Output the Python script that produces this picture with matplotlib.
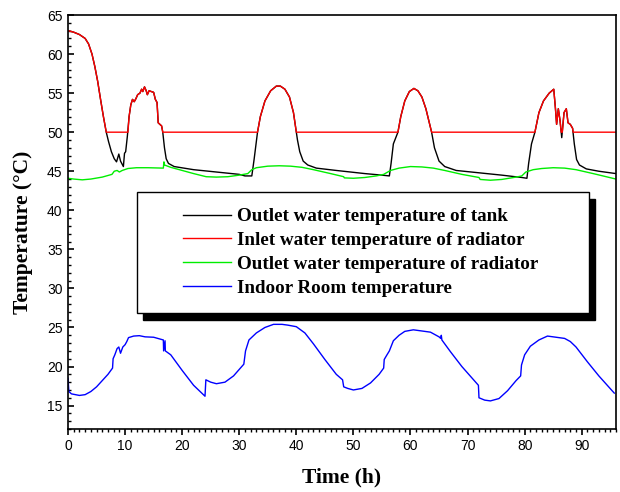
import numpy as np
import matplotlib
matplotlib.use('Agg')
import matplotlib.pyplot as plt
from matplotlib.patches import Rectangle
from matplotlib.ticker import MultipleLocator

# outlet water temperature of tank
tank_t = [0, 1, 2, 3, 3.6, 4.2, 4.7, 5.2, 5.7, 6.2, 6.7, 7.1, 7.6, 8.1, 8.5, 8.9, 9.2, 9.7, 9.9, 10.1,
          10.4, 10.7, 11.0, 11.3, 11.6, 11.9, 12.2, 12.6, 12.9, 13.1, 13.4, 13.7, 13.9, 14.2, 14.6, 15.0,
          15.3, 15.6, 15.8, 16.1, 16.4, 16.6, 16.9, 17.2, 17.6, 18.6, 22, 26, 30, 31.0, 32.2,
          32.6, 33.2, 33.7, 34.5, 35.5, 36.5, 37.2, 38.0, 38.8, 39.5, 39.9, 40.2, 40.6, 41.2, 42, 43.5,
          47, 52, 55, 56.3, 56.6, 57.0, 57.8, 58.3, 59.0, 59.8, 60.6, 61.3, 62.0, 62.7, 63.2, 63.7, 64.2,
          65.0, 66.0, 68.0, 72, 76, 79.5, 80.4, 80.7, 81.2, 81.8, 82.5, 83.3, 84.3, 85.1, 85.4, 85.6,
          85.9, 86.2, 86.5, 86.9, 87.3, 87.6, 88.0, 88.4, 88.7, 89.1, 89.6, 90.8, 93, 96]
tank_T = [63.0, 62.8, 62.5, 62.0, 61.3, 60.0, 58.4, 56.5, 54.2, 52.0, 50.0, 48.8, 47.5, 46.6, 46.2, 47.2, 46.3, 45.6, 47.3, 47.5,
          49.5, 52.0, 53.5, 54.2, 53.9, 54.3, 54.8, 55.0, 55.5, 55.2, 55.8, 55.3, 54.8, 55.3, 55.2, 55.1,
          54.2, 53.8, 51.2, 51.0, 50.8, 50.0, 48.0, 46.6, 46.0, 45.6, 45.2, 44.9, 44.6, 44.4, 44.4,
          46.5, 50.0, 52.0, 54.0, 55.3, 55.9, 55.9, 55.5, 54.5, 52.5, 50.5, 49.0, 47.5, 46.3, 45.8, 45.4,
          45.1, 44.7, 44.5, 44.4, 46.0, 48.5, 50.0, 52.0, 54.0, 55.2, 55.6, 55.3, 54.5, 53.0, 51.5, 50.0, 48.0,
          46.3, 45.6, 45.1, 44.8, 44.5, 44.2, 44.1, 46.0, 48.5, 50.0, 52.5, 54.0, 55.0, 55.5, 53.0, 51.0,
          53.0, 51.5, 49.3, 52.5, 53.0, 51.2, 51.0, 50.5, 48.5, 46.5, 45.8, 45.3, 45.0, 44.7]

# inlet water temperature of radiator
inlet_t = [0, 1, 2, 3, 3.6, 4.2, 4.7, 5.2, 5.7, 6.2, 6.7, 10.5, 10.7, 11.0, 11.3, 11.6, 11.9, 12.2, 12.6,
           12.9, 13.1, 13.4, 13.7, 13.9, 14.2, 14.6, 15.0, 15.3, 15.6, 15.8, 16.1, 16.4, 16.6,
           33.2, 33.7, 34.5, 35.5, 36.5, 37.2, 38.0, 38.8, 39.5, 39.9, 40.0,
           57.8, 58.3, 59.0, 59.8, 60.6, 61.3, 62.0, 62.7, 63.2, 63.7,
           81.8, 82.5, 83.3, 84.3, 85.1, 85.4, 85.6, 85.9, 86.2, 86.4, 86.6, 86.9, 87.3, 87.6, 88.0,
           88.4, 88.5, 96]
inlet_T = [63.0, 62.8, 62.5, 62.0, 61.3, 60.0, 58.4, 56.5, 54.2, 52.0, 50.0, 50.0, 52.0, 53.5, 54.2, 53.9, 54.3, 54.8, 55.0,
           55.5, 55.2, 55.8, 55.3, 54.8, 55.3, 55.2, 55.1, 54.2, 53.8, 51.2, 51.0, 50.8, 50.0,
           50.0, 52.0, 54.0, 55.3, 55.9, 55.9, 55.5, 54.5, 52.5, 50.5, 50.0,
           50.0, 52.0, 54.0, 55.2, 55.6, 55.3, 54.5, 53.0, 51.5, 50.0,
           50.0, 52.5, 54.0, 55.0, 55.5, 53.0, 51.0, 53.0, 51.5, 50.0, 50.0, 52.5, 53.0, 51.2, 51.0,
           50.5, 50.0, 50.0]

# outlet water temperature of radiator
outlet_t = [0, 1, 2.5, 4, 6, 7.7, 8.1, 8.6, 9.0, 9.5, 10.5, 12, 14, 16.7, 16.8, 16.9, 18, 20, 22, 24.2,
            26, 28, 30, 31.5, 32.2, 33, 35, 37, 39, 41, 43, 46, 48.3, 48.4, 50, 52, 54, 55.3, 56.5, 58,
            60, 62, 64, 66, 69, 72, 72.2, 74, 76, 78.5, 79.5, 80.2, 81.5, 83, 85, 87, 89, 92, 94, 96]
outlet_T = [44.1, 44.0, 43.9, 44.0, 44.25, 44.6, 45.0, 45.1, 44.9, 45.1, 45.35, 45.45, 45.45, 45.4, 46.2, 45.8, 45.5, 45.1, 44.7, 44.3,
            44.25, 44.3, 44.5, 44.7, 45.2, 45.45, 45.65, 45.7, 45.65, 45.5, 45.2, 44.7, 44.3, 44.15, 44.1, 44.2, 44.4, 44.6, 45.1, 45.4,
            45.6, 45.55, 45.4, 45.1, 44.6, 44.2, 43.95, 43.85, 43.95, 44.25, 44.4, 44.9, 45.2, 45.35, 45.45, 45.4, 45.2, 44.7, 44.35, 44.0]

# indoor room temperature
room_t = [0, 0.15, 0.6, 2, 3, 4, 5, 6, 7, 7.8, 7.9, 8.2, 8.6, 8.9, 9.2, 9.6, 10.0, 10.3, 10.6, 11.5, 12.5,
          13.5, 15, 16.7, 16.75, 17, 17.05, 18, 20, 22, 24, 24.15, 25, 26, 27.5, 29, 30.8, 31.1, 31.7, 33,
          34.5, 36, 37.5, 38.5, 40, 41.5, 43, 45, 47, 48.1, 48.3, 49, 50, 51.5, 53, 54.5, 55.3, 55.4, 55.8,
          56.3, 57, 58, 59, 60.5, 61.5, 62.5, 63.5, 65, 65.3, 65.4, 65.5, 67, 69, 71.9, 72.0, 73, 74, 75.5,
          77, 78.5, 79.3, 79.45, 80, 81, 82.5, 84, 85, 86, 87, 88, 89, 91, 93, 95.7]
room_T = [18.5, 16.8, 16.5, 16.3, 16.4, 16.8, 17.4, 18.2, 19.0, 19.8, 21.0, 21.5, 22.3, 22.5, 21.7, 22.5, 22.8, 23.2, 23.7, 23.9, 23.95,
          23.8, 23.75, 23.4, 22.0, 23.3, 22.0, 21.5, 19.5, 17.6, 16.2, 18.3, 18.0, 17.8, 18.0, 18.8, 20.3, 22.0, 23.4, 24.3,
          25.0, 25.4, 25.4, 25.3, 25.1, 24.3, 22.9, 20.9, 19.0, 18.3, 17.4, 17.2, 17.0, 17.2, 17.9, 19.0, 19.8, 20.9, 21.4,
          22.0, 23.3, 24.0, 24.5, 24.7, 24.6, 24.5, 24.4, 23.8, 23.6, 24.0, 23.4, 21.9, 20.0, 17.6, 16.0, 15.7, 15.6, 15.9,
          16.9, 18.2, 18.8, 20.2, 21.5, 22.6, 23.4, 23.9, 23.8, 23.7, 23.6, 23.2, 22.5, 20.6, 18.8, 16.6]

labels = ['Outlet water temperature of tank', 'Inlet water temperature of radiator',
          'Outlet water temperature of radiator', 'Indoor Room temperature']

fig = plt.figure(figsize=(6.2, 4.92), dpi=100)
ax = fig.add_axes([0.1097, 0.128, 0.8838, 0.8415])

ax.plot(tank_t, tank_T, color='black', lw=1.0, label=labels[0])
ax.plot(inlet_t, inlet_T, color='#ff0000', lw=1.0, label=labels[1])
ax.plot(outlet_t, outlet_T, color='#00ee00', lw=1.0, label=labels[2])
ax.plot(room_t, room_T, color='#0000ff', lw=1.0, label=labels[3])

ax.set_xlim(0, 96)
ax.set_ylim(12, 65)
ax.xaxis.set_major_locator(MultipleLocator(10))
ax.xaxis.set_minor_locator(MultipleLocator(1))
ax.yaxis.set_major_locator(MultipleLocator(5))
ax.yaxis.set_minor_locator(MultipleLocator(1))
ax.set_yticks(np.arange(15, 66, 5))

tick_font = 'Liberation Sans'
for lab in ax.get_xticklabels() + ax.get_yticklabels():
    lab.set_fontfamily(tick_font)
    lab.set_fontsize(10)

ax.tick_params(axis='y', which='major', direction='in', length=4, width=1.2, pad=4)
ax.tick_params(axis='y', which='minor', direction='in', length=2.5, width=1.0)
ax.tick_params(axis='x', which='major', direction='out', length=4, width=1.2, pad=3)
ax.tick_params(axis='x', which='minor', direction='out', length=2.5, width=1.0)
for s in ax.spines.values():
    s.set_linewidth(1.2)

ax.set_xlabel('Time (h)', fontfamily='Liberation Serif', fontweight='bold', fontsize=15.5)
ax.set_ylabel('Temperature (\u00b0C)', fontfamily='Liberation Serif', fontweight='bold', fontsize=15.5)
ax.xaxis.set_label_coords(0.5, -0.094)
ax.yaxis.set_label_coords(-0.064, 0.476)

# legend box with black drop shadow
bx0, by0, bw, bh = 0.126, 0.280, 0.825, 0.292
ax.add_patch(Rectangle((bx0 + 0.011, by0 - 0.016), bw, bh, transform=ax.transAxes,
                       facecolor='black', edgecolor='black', zorder=4))
ax.add_patch(Rectangle((bx0, by0), bw, bh, transform=ax.transAxes,
                       facecolor='white', edgecolor='black', lw=1.0, zorder=4.5))
leg = ax.legend(loc='upper left', bbox_to_anchor=(0.2099, 0.534), frameon=False,
                prop={'family': 'Liberation Serif', 'weight': 'bold', 'size': 13.7},
                handlelength=2.5, handletextpad=0.32, labelspacing=0.34, borderpad=0, borderaxespad=0)
leg.set_zorder(5)

fig.savefig('out.png', dpi=100)
